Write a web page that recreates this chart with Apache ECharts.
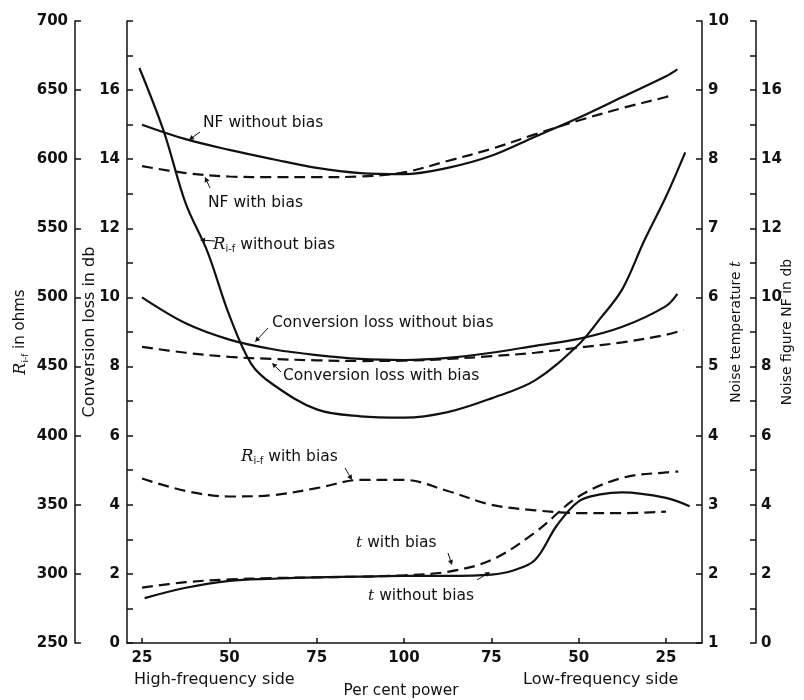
<!DOCTYPE html>
<html><head><meta charset="utf-8">
<script src="https://cdn.jsdelivr.net/npm/echarts@6/dist/echarts.min.js"></script>
<style>html,body{margin:0;padding:0;background:#fff}#c{width:804px;height:700px}</style>
</head><body><div id="c"></div>
<script>
// x positions: 0..6 correspond to tick labels below (high-frequency side -> 100% -> low-frequency side)
const xTickLabels = ['25','50','75','100','75','50','25'];
const xTickPos = [0,1,2,3,4,5,6];

// Noise figure (db) – right outer axis
const nfWithoutX = [0,0.5,1,1.5,2,2.5,3,3.5,4,4.5,5,5.5,6,6.13];
const nfWithoutY = [15.0,14.58,14.27,14.0,13.75,13.6,13.57,13.75,14.1,14.65,15.2,15.8,16.4,16.6];
const nfWithX = [0,0.5,1,1.5,2,2.5,3,3.5,4,4.5,5,5.5,6,6.08];
const nfWithY = [13.8,13.6,13.5,13.48,13.48,13.5,13.62,13.95,14.3,14.72,15.12,15.48,15.8,15.86];

// R i-f (ohms) – left outer axis
const rWithoutX = [-0.03,0.25,0.5,0.75,1,1.25,1.5,2,2.5,3,3.5,4,4.5,5,5.25,5.5,5.75,6,6.22];
const rWithoutY = [666,620,568,533,487,452,437,419,414,413,417,427,440,466,485,506,541,573,605];
const rWithX = [0,0.5,1,1.5,2,2.5,3,3.5,4,4.5,5,5.5,6];
const rWithY = [369,360,356,357,362,368,368,360,350,346,344,344,345];

// Conversion loss (db) – left inner axis
const clWithoutX = [0,0.5,1,1.5,2,2.5,3,3.5,4,4.5,5,5.5,6,6.13];
const clWithoutY = [10.0,9.25,8.78,8.5,8.33,8.22,8.19,8.25,8.4,8.6,8.8,9.15,9.75,10.1];
const clWithX = [0,0.5,1,1.5,2,2.5,3,3.5,4,4.5,5,5.5,6,6.2];
const clWithY = [8.57,8.4,8.28,8.22,8.18,8.16,8.17,8.22,8.3,8.4,8.55,8.7,8.92,9.06];

// Noise temperature t – right inner axis
const tWithoutX = [0.03,0.5,1,1.5,2,2.5,3,3.5,4,4.25,4.5,4.75,5,5.25,5.5,6,6.27];
const tWithoutY = [1.65,1.8,1.9,1.93,1.95,1.96,1.97,1.97,1.99,2.05,2.2,2.7,3.05,3.15,3.18,3.1,2.98];
const tWithX = [0,0.5,1,1.5,2,2.5,3,3.5,4,4.5,5,5.5,6,6.14];
const tWithY = [1.8,1.88,1.92,1.94,1.95,1.96,1.98,2.03,2.2,2.6,3.12,3.39,3.47,3.48];

const FONT = 'DejaVu Sans';
const INK = '#111';

function pairs(xs, ys){ return xs.map((x,i)=>[x, ys[i]]); }

const chart = echarts.init(document.getElementById('c'), null, {renderer:'canvas'});

const tickLabelStyle = {color:INK, fontFamily:FONT, fontSize:15, fontWeight:'bold'};

function yAxisBase(extra){
  return Object.assign({
    type:'value',
    nameLocation:'middle',
    nameMoveOverlap:false,
    axisLine:{show:true, onZero:false, lineStyle:{color:INK, width:1.5}},
    axisTick:{show:true, inside:true, length:6, lineStyle:{color:INK, width:1.5}},
    splitLine:{show:false},
    axisLabel:Object.assign({margin:7}, tickLabelStyle),
    nameTextStyle:{color:INK, fontFamily:FONT, fontSize:16}
  }, extra);
}

function richSet(base){
  return {
    r:{fontFamily:'DejaVu Serif', fontStyle:'italic', fontSize:base+1, color:INK},
    s:{fontFamily:FONT, fontSize:Math.round(base*0.62), color:INK, verticalAlign:'bottom', lineHeight:base+4},
    n:{fontFamily:FONT, fontSize:base, color:INK},
    it:{fontFamily:'DejaVu Serif', fontStyle:'italic', fontSize:base, color:INK}
  };
}

function lineSeries(name, xs, ys, axis, dashed){
  return {
    name, type:'line', yAxisIndex:axis, data:pairs(xs, ys),
    smooth:0.35, showSymbol:false, symbol:'none',
    lineStyle:{color:INK, width:2.2, type: dashed ? [11,6] : 'solid'},
    z:3, silent:true
  };
}

const annotations = [
  {text:'NF without bias', x:203, y:123},
  {text:'NF with bias', x:208, y:203},
  {text:'{r|R}{s|i-f}{n| without bias}', x:213, y:245, rich:true},
  {text:'Conversion loss without bias', x:272, y:323},
  {text:'Conversion loss with bias', x:283, y:376},
  {text:'{r|R}{s|i-f}{n| with bias}', x:241, y:457, rich:true},
  {text:'{it|t}{n| with bias}', x:356, y:543, rich:true},
  {text:'{it|t}{n| without bias}', x:368, y:596, rich:true}
];
const leaders = [
  [200,132,189,140],[210,188,205,177],[215,241,200,240],[268,328,255,342],
  [281,372,272,363],[345,468,352,480],[448,553,452,565],[477,580,490,572]
];

const ANN = 15.5;
const graphics = [];
annotations.forEach(a=>{
  graphics.push({type:'text', x:a.x, y:a.y, silent:true, style:{
    text:a.text, fill:INK, font:ANN + 'px "DejaVu Sans"', verticalAlign:'middle', align:'left',
    rich: a.rich ? richSet(ANN) : undefined
  }});
});
leaders.forEach(l=>{
  const [x1,y1,x2,y2] = l;
  const ang = Math.atan2(y2-y1, x2-x1), h=5, w=2.6;
  const bx = x2 - h*Math.cos(ang), by = y2 - h*Math.sin(ang);
  graphics.push({type:'line', silent:true, shape:{x1,y1,x2:bx,y2:by}, style:{stroke:INK, lineWidth:1}});
  graphics.push({type:'polygon', silent:true, shape:{points:[[x2,y2],[bx - w*Math.sin(ang), by + w*Math.cos(ang)],[bx + w*Math.sin(ang), by - w*Math.cos(ang)]]}, style:{fill:INK}});
});
graphics.push({type:'text', x:134, y:680, silent:true, style:{text:'High-frequency side', fill:INK, font:'16px "DejaVu Sans"', verticalAlign:'middle'}});
graphics.push({type:'text', x:523, y:680, silent:true, style:{text:'Low-frequency side', fill:INK, font:'16px "DejaVu Sans"', verticalAlign:'middle'}});
graphics.push({type:'text', x:401, y:691, silent:true, style:{text:'Per cent power', fill:INK, font:'15.3px "DejaVu Sans"', verticalAlign:'middle', align:'center'}});

chart.setOption({
  animation:false,
  backgroundColor:'#fff',
  grid:{left:127, right:102, top:21, bottom:57, containLabel:false, outerBoundsMode:'none'},
  xAxis:{
    type:'value', min:-0.172, max:6.412,
    axisLine:{show:true, onZero:false, lineStyle:{color:INK, width:1.5}},
    axisTick:{show:true, inside:true, length:5, customValues:xTickPos, lineStyle:{color:INK, width:1.5}},
    axisLabel:Object.assign({customValues:xTickPos, formatter:(v)=>xTickLabels[Math.round(v)], margin:8}, tickLabelStyle),
    splitLine:{show:false}
  },
  yAxis:[
    yAxisBase({position:'left', offset:52, min:250, max:700, interval:50,
      name:'{r|R}{s|i-f}{n| in ohms}', nameGap:45,
      nameTextStyle:{color:INK, fontFamily:FONT, fontSize:15, rich:richSet(15)}}),
    yAxisBase({position:'left', offset:0, min:0, max:18, interval:2,
      minorTick:{show:true, splitNumber:2, length:6, lineStyle:{color:INK, width:1.5}},
      axisLabel:Object.assign({margin:7, formatter:(v)=> v===18 ? '' : String(v)}, tickLabelStyle),
      name:'Conversion loss in db', nameGap:29,
      nameTextStyle:{color:INK, fontFamily:FONT, fontSize:16}}),
    yAxisBase({position:'right', offset:0, min:1, max:10, interval:1,
      axisLabel:Object.assign({margin:6}, tickLabelStyle),
      name:'{n|Noise temperature }{it|t}', nameGap:27,
      nameTextStyle:{color:INK, fontFamily:FONT, fontSize:14, rich:richSet(14)}}),
    yAxisBase({position:'right', offset:54, min:0, max:18, interval:2,
      minorTick:{show:true, splitNumber:2, length:6, lineStyle:{color:INK, width:1.5}},
      axisLabel:Object.assign({margin:5, formatter:(v)=> v===18 ? '' : String(v)}, tickLabelStyle),
      name:'Noise figure NF in db', nameGap:24,
      nameTextStyle:{color:INK, fontFamily:FONT, fontSize:14}})
  ],
  series:[
    lineSeries('NF without bias', nfWithoutX, nfWithoutY, 3, false),
    lineSeries('NF with bias', nfWithX, nfWithY, 3, true),
    lineSeries('R i-f without bias', rWithoutX, rWithoutY, 0, false),
    lineSeries('R i-f with bias', rWithX, rWithY, 0, true),
    lineSeries('Conversion loss without bias', clWithoutX, clWithoutY, 1, false),
    lineSeries('Conversion loss with bias', clWithX, clWithY, 1, true),
    lineSeries('t without bias', tWithoutX, tWithoutY, 2, false),
    lineSeries('t with bias', tWithX, tWithY, 2, true)
  ],
  graphic:graphics
});
</script>
</body></html>
